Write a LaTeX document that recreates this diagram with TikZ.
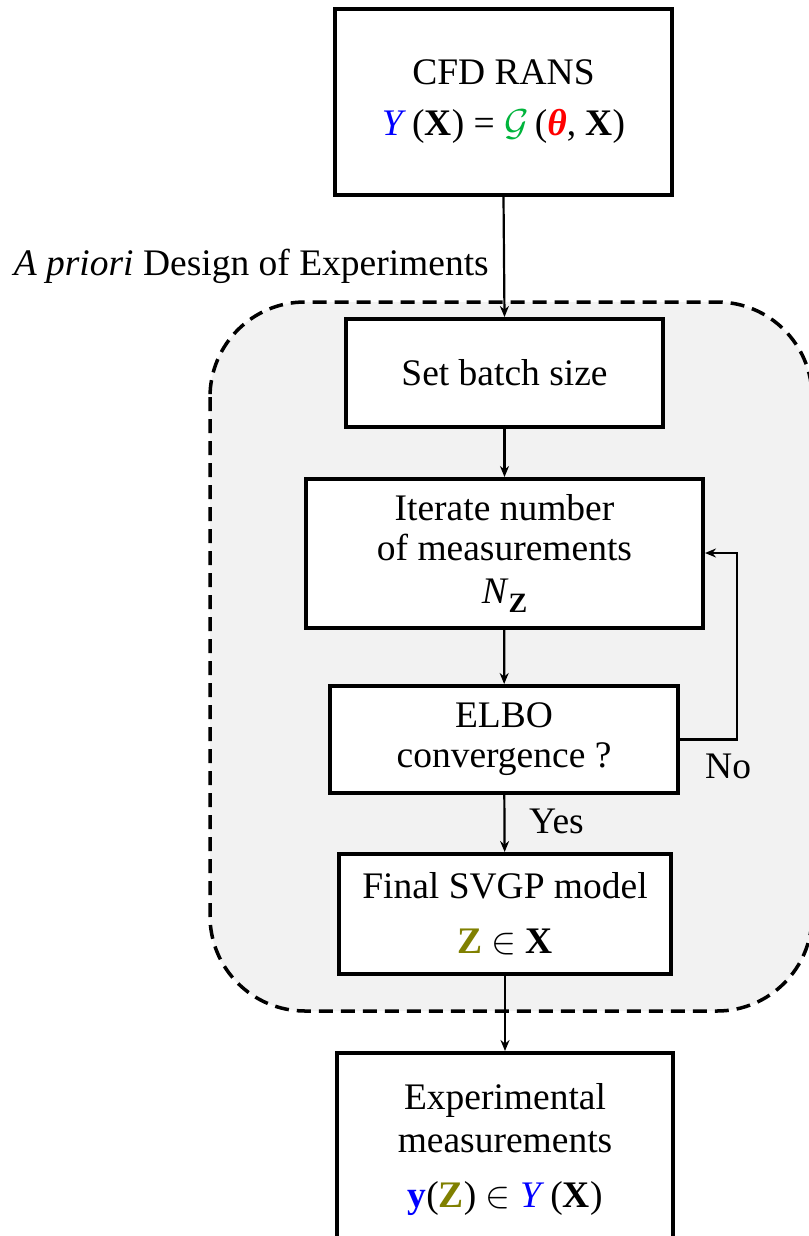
\RequirePackage{fix-cm}
\documentclass[tikz,border=0pt]{standalone}
\usepackage{amsmath}
\usepackage{fontspec}
\setmainfont{Liberation Serif}
\newfontfamily\tnr{Liberation Serif}
\usetikzlibrary{arrows.meta}
\definecolor{ygreen}{RGB}{0,180,60}
\definecolor{zolive}{RGB}{128,128,0}
\definecolor{bgray}{RGB}{242,242,242}
\newcommand{\bX}{\textbf{X}}
\newcommand{\bZ}{\textbf{\color{zolive}Z}}
\begin{document}
\begin{tikzpicture}[x=1pt,y=-1pt,
  box/.style={draw, line width=4pt, fill=white, align=center, inner sep=0pt,
    font=\tnr\fontsize{37.5}{40}\selectfont},
  lbl/.style={inner sep=0pt, font=\tnr\fontsize{37.5}{40}\selectfont},
  conn/.style={line width=2.2pt, -{Stealth[length=11pt,width=9pt]}},
  region/.style={line width=3.5pt, dash pattern=on 14pt off 8pt, fill=bgray, rounded corners=95pt}]
\useasboundingbox (0,0) rectangle (808,1236);
\fill[white] (0,0) rectangle (808,1236);
\draw[region] (210,302) rectangle (812,1011);

\node[box, minimum width=337pt, minimum height=186pt] (cfd) at (503.5,102)
  {CFD RANS\\[11pt] {\color{blue}\textit{Y}}\,(\bX) = {\color{ygreen}$\mathcal{G}$}\,({\color{red}\textbf{\textit{θ}}}, \bX)};
\node[box, minimum width=317pt, minimum height=108pt] (batch) at (504.5,373) {Set batch size};
\node[box, minimum width=397pt, minimum height=149pt] (iter) at (504.5,553.5)
  {Iterate number\\ of measurements\\[3pt] \textit{N}\raisebox{-0.22em}{\fontsize{28}{28}\selectfont\textbf{Z}}};
\node[box, minimum width=348pt, minimum height=107pt] (elbo) at (504,739.5)
  {ELBO\\ convergence ?};
\node[box, minimum width=332pt, minimum height=120pt] (final) at (505,914)
  {Final SVGP model\\[15pt] \bZ\ $\in$ \bX};
\node[box, minimum width=336pt, minimum height=193pt] (exp) at (505,1149.5)
  {Experimental\\[3pt] measurements\\[15pt] {\color{blue}\textbf{y}}(\bZ) $\in$ {\color{blue}\textit{Y}}\,(\bX)};

\node[lbl, anchor=base east] (doe) at (489,275) {\textit{A priori} Design of Experiments};
\coordinate (fb) at (737,553);

\draw[conn] (cfd.south) -- (batch.north);
\draw[conn] (batch) -- (iter);
\draw[conn] (iter) -- (elbo);
\draw[conn] (elbo) -- (final);
\node[lbl, anchor=base west] (yes) at (529,833) {Yes};
\draw[conn] (final) -- (exp);
\draw[conn] (elbo.east) -| (fb) -- (iter.east |- fb);
\node[lbl, anchor=base west] (no) at (705,778) {No};
\end{tikzpicture}
\end{document}
